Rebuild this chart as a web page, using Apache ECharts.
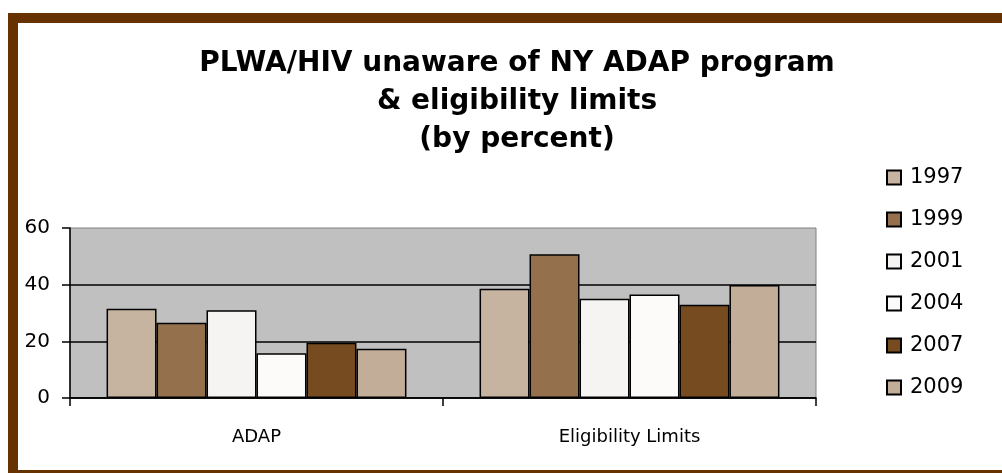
<!DOCTYPE html>
<html>
<head>
<meta charset="utf-8">
<script src="https://cdn.jsdelivr.net/npm/echarts@6/dist/echarts.min.js"></script>
<style>
  html, body { margin: 0; padding: 0; background: #fff; }
  #main { width: 1002px; height: 473px; }
</style>
</head>
<body>
<div id="main"></div>
<script>
const categories = ['ADAP', 'Eligibility Limits'];
const years = ['1997', '1999', '2001', '2004', '2007', '2009'];
const v1997 = [31.5, 38.6];
const v1999 = [26.6, 50.7];
const v2001 = [31, 35];
const v2004 = [15.8, 36.5];
const v2007 = [19.5, 32.9];
const v2009 = [17.4, 39.9];
const colors = ['#c6b3a0', '#94704c', '#f5f4f2', '#fcfbf9', '#774b20', '#c2ad98'];

const values = [v1997, v1999, v2001, v2004, v2007, v2009];
const font = 'DejaVu Sans';

const chart = echarts.init(document.getElementById('main'));

const option = {
  backgroundColor: '#fff',
  animation: false,
  title: {
    text: 'PLWA/HIV unaware of NY ADAP program\n& eligibility limits\n(by percent)',
    left: 512,
    textAlign: 'center',
    top: 40,
    textStyle: {
      fontFamily: font,
      fontWeight: 'bold',
      fontSize: 28,
      lineHeight: 38,
      color: '#000'
    }
  },
  legend: {
    orient: 'vertical',
    left: 881,
    top: 162,
    itemWidth: 14,
    itemHeight: 14,
    itemGap: 21,
    icon: 'rect',
    data: years,
    textStyle: {
      fontFamily: font,
      fontSize: 21,
      color: '#000',
      padding: [0, 0, 0, 4]
    }
  },
  grid: {
    left: 70,
    right: 186,
    top: 228,
    bottom: 75,
    show: true,
    backgroundColor: '#c0c0c0',
    borderColor: '#808080',
    borderWidth: 1
  },
  xAxis: {
    type: 'category',
    data: categories,
    axisLine: { lineStyle: { color: '#000', width: 1.5 } },
    axisTick: { show: true, length: 8, lineStyle: { color: '#000', width: 1.5 } },
    axisLabel: {
      fontFamily: font,
      fontSize: 18,
      color: '#000',
      margin: 30
    }
  },
  yAxis: {
    type: 'value',
    min: 0,
    max: 60,
    interval: 20,
    axisLine: { show: true, lineStyle: { color: '#000', width: 1.5 } },
    axisTick: { show: true, length: 8, lineStyle: { color: '#000', width: 1.5 } },
    axisLabel: {
      fontFamily: font,
      fontSize: 20,
      color: '#000',
      margin: 20
    },
    splitLine: { show: true, showMaxLine: false, lineStyle: { color: '#000', width: 1.5 } }
  },
  graphic: [{
    type: 'rect',
    shape: { x: 13, y: 18, width: 1100, height: 457 },
    style: { fill: 'none', stroke: '#663300', lineWidth: 10 },
    silent: true
  }],
  series: years.map((y, i) => ({
    name: y,
    type: 'bar',
    data: values[i],
    barGap: '0%',
    barCategoryGap: '19.6%',
    itemStyle: { color: colors[i], borderColor: '#000', borderWidth: 1.5 }
  }))
};

chart.setOption(option);
</script>
</body>
</html>
